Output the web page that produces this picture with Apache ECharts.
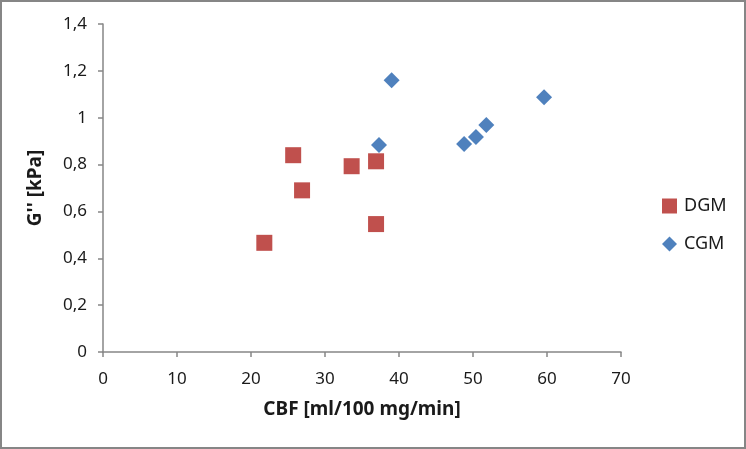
<!DOCTYPE html>
<html><head><meta charset="utf-8">
<script src="https://cdn.jsdelivr.net/npm/echarts@6/dist/echarts.min.js"></script>
<style>
html,body{margin:0;padding:0;background:#fff;}
#wrap{position:absolute;left:0;top:0;width:746px;height:449px;box-sizing:border-box;border:2px solid #868686;}
#c{position:absolute;left:0;top:0;width:746px;height:449px;}
</style></head><body>
<div id="c"></div><div id="wrap"></div>
<script>
const dgmX = [21.8, 25.7, 26.9, 33.6, 36.9, 36.9];
const dgmY = [0.466, 0.840, 0.690, 0.793, 0.814, 0.546];
const cgmX = [37.3, 39.0, 48.8, 50.4, 51.8, 59.6];
const cgmY = [0.884, 1.160, 0.888, 0.918, 0.969, 1.087];
const seriesNames = ['DGM', 'CGM'];
const xName = 'CBF [ml/100 mg/min]';
const yName = "G'' [kPa]";

const font = "'Noto Sans', 'Open Sans', sans-serif";
const chart = echarts.init(document.getElementById('c'), null, {renderer: 'canvas'});
chart.setOption({
  animation: false,
  grid: {left: 103, top: 24, right: 125, bottom: 97, containLabel: false},
  xAxis: {
    type: 'value', min: 0, max: 70, interval: 10,
    name: xName, nameLocation: 'middle', nameGap: 48,
    nameTextStyle: {fontFamily: font, fontSize: 19, fontWeight: 'bold', color: '#1a1a1a'},
    axisLine: {show: true, onZero: false, lineStyle: {color: '#868686', width: 1.5}},
    axisTick: {show: true, inside: false, length: 5, lineStyle: {color: '#868686', width: 1.5}},
    axisLabel: {fontFamily: font, fontSize: 17, color: '#1a1a1a', margin: 19},
    splitLine: {show: false}
  },
  yAxis: {
    type: 'value', min: 0, max: 1.4, interval: 0.2,
    name: yName, nameLocation: 'middle', nameGap: 58, nameRotate: 90,
    nameTextStyle: {fontFamily: font, fontSize: 19, fontWeight: 'bold', color: '#1a1a1a'},
    axisLine: {show: true, onZero: false, lineStyle: {color: '#868686', width: 1.5}},
    axisTick: {show: true, inside: false, length: 5, lineStyle: {color: '#868686', width: 1.5}},
    axisLabel: {fontFamily: font, fontSize: 17, color: '#1a1a1a', margin: 16,
      formatter: v => String(Math.round(v * 10) / 10).replace('.', ',')},
    splitLine: {show: false}
  },
  legend: {
    orient: 'vertical', left: 657, top: 192, itemGap: 20,
    itemWidth: 15, itemHeight: 15,
    textStyle: {fontFamily: font, fontSize: 18, color: '#1a1a1a', padding: [0, 0, 0, 2]},
    data: [{name: seriesNames[0], icon: 'rect'}, {name: seriesNames[1], icon: 'diamond'}]
  },
  series: [
    {name: seriesNames[0], type: 'scatter', symbol: 'rect', symbolSize: 16,
     itemStyle: {color: '#C0504D', opacity: 1},
     data: dgmX.map((x, i) => [x, dgmY[i]])},
    {name: seriesNames[1], type: 'scatter', symbol: 'diamond', symbolSize: 16,
     itemStyle: {color: '#4F81BD', opacity: 1},
     data: cgmX.map((x, i) => [x, cgmY[i]])}
  ]
});
</script>
</body></html>
